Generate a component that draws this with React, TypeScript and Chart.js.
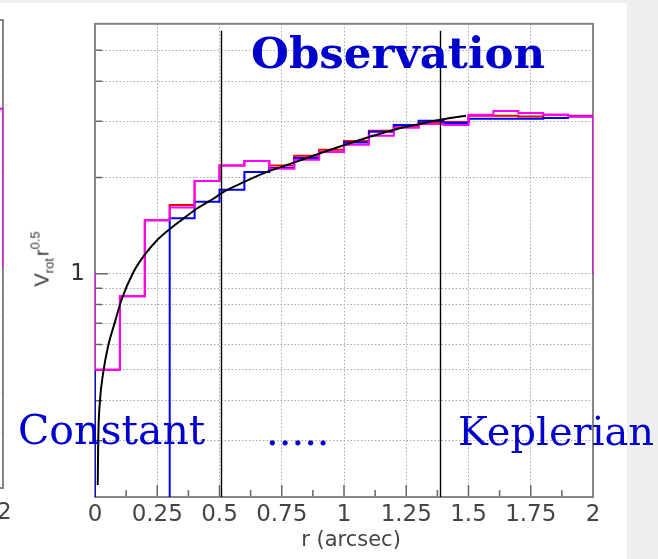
import React, { useEffect, useRef } from "react";
import { Chart, registerables } from "chart.js";

Chart.register(...registerables);

// ---------- data ----------
const BIN_LOW = [0, 0.1, 0.2, 0.3, 0.4, 0.5, 0.6, 0.7, 0.8, 0.9, 1.0, 1.1, 1.2, 1.3, 1.4, 1.5, 1.6, 1.7, 1.8, 1.9];
const BIN_WIDTH = 0.1;
const RED = [0.5, 0.85, 1.47, 1.64, 1.95, 2.18, 2.25, 2.18, 2.34, 2.44, 2.6, 2.8, 2.9, 2.98, 2.98, 3.12, 3.12, 3.1, 3.14, 3.12];
const BLUE = [0, 0, 0, 1.49, 1.68, 1.83, 2.08, 2.14, 2.3, 2.4, 2.57, 2.78, 2.92, 3.01, 2.96, 3.05, 3.05, 3.05, 3.07, 3.1];
const MAGENTA = [0.5, 0.85, 1.47, 1.61, 1.95, 2.18, 2.25, 2.13, 2.27, 2.4, 2.53, 2.7, 2.86, 2.94, 2.92, 3.14, 3.23, 3.18, 3.14, 3.1];

const CURVE_R = [0.011, 0.013, 0.02, 0.033, 0.052, 0.08, 0.107, 0.154, 0.194, 0.248, 0.301, 0.355, 0.408, 0.475, 0.515, 0.595, 0.703, 0.743, 0.823, 0.904, 0.984, 1.064, 1.145, 1.225, 1.305, 1.386, 1.49];
const CURVE_V = [0.218, 0.3, 0.4, 0.49, 0.59, 0.705, 0.83, 1.01, 1.13, 1.27, 1.38, 1.486, 1.596, 1.715, 1.8, 1.93, 2.1, 2.15, 2.26, 2.38, 2.5, 2.62, 2.74, 2.85, 2.94, 3.03, 3.12];

const X_TICKS = [0, 0.25, 0.5, 0.75, 1, 1.25, 1.5, 1.75, 2];
const X_MINOR_TICKS = [0.125, 0.375, 0.625, 0.875, 1.125, 1.375, 1.625, 1.875];
const Y_TICKS = [0.2, 0.3, 0.4, 0.5, 0.6, 0.7, 0.8, 0.9, 1, 2, 3, 4, 5];
const Y_LABELED = [1];
const X_MIN = 0;
const X_MAX = 2;
const Y_MIN = 0.2;
const Y_MAX = 6.05;
const HIST_BASE = 1;
const EMPTY_FLOOR = 0.1;
const MARKER_LINES = [0.505, 1.384];
const MARKER_TOP = 5.75;

// neighbouring (cut-off) panel on the left
const LEFT_BIN_LOW = [1.9];
const LEFT_MAGENTA = [3.17];
const LEFT_X_LABEL = "2";

// ---------- helpers ----------
function histPoints(lows: number[], vals: number[]) {
  const pts: { x: number; y: number }[] = [{ x: lows[0], y: HIST_BASE }];
  lows.forEach((lo, i) => {
    const v = vals[i] > 0 ? vals[i] : EMPTY_FLOOR;
    pts.push({ x: lo, y: v });
    pts.push({ x: lo + BIN_WIDTH, y: v });
  });
  pts.push({ x: lows[lows.length - 1] + BIN_WIDTH, y: HIST_BASE });
  return pts;
}

const TICK_FONT = { family: "DejaVu Sans", size: 23 };
const LABEL_COLOR = "#454545";

const framePlugin = {
  id: "frame",
  beforeDatasetsDraw(chart: any, _args: any, opts: any) {
    const { ctx, chartArea: a, scales } = chart;
    ctx.save();
    if (opts.innerTicks) {
      ctx.strokeStyle = "#666";
      ctx.lineWidth = 1.5;
      ctx.beginPath();
      X_TICKS.forEach((v) => {
        const px = scales.x.getPixelForValue(v);
        ctx.moveTo(px, a.bottom);
        ctx.lineTo(px, a.bottom - 12);
      });
      X_MINOR_TICKS.forEach((v) => {
        const px = scales.x.getPixelForValue(v);
        ctx.moveTo(px, a.bottom);
        ctx.lineTo(px, a.bottom - 7);
      });
      Y_TICKS.forEach((v) => {
        const py = scales.y.getPixelForValue(v);
        ctx.moveTo(a.left, py);
        ctx.lineTo(a.left + (Y_LABELED.includes(v) ? 13 : 7), py);
      });
      ctx.stroke();
    }
    ctx.strokeStyle = "#858585";
    ctx.lineWidth = 2;
    ctx.strokeRect(a.left, a.top, a.right - a.left, a.bottom - a.top);
    ctx.restore();
  },
  afterDatasetsDraw(chart: any, _args: any, opts: any) {
    if (!opts.markers) return;
    const { ctx, chartArea: a, scales } = chart;
    ctx.save();
    ctx.strokeStyle = "#000";
    ctx.lineWidth = 1.4;
    ctx.beginPath();
    MARKER_LINES.forEach((v) => {
      const px = Math.round(scales.x.getPixelForValue(v)) + 0.5;
      ctx.moveTo(px, scales.y.getPixelForValue(MARKER_TOP));
      ctx.lineTo(px, a.bottom);
    });
    ctx.stroke();
    ctx.restore();
  },
};

function gridOpts() {
  return {
    grid: { color: "#a8a8a8", lineWidth: 1, drawTicks: false },
    border: { display: false, dash: [1.5, 2] },
  };
}

export default function App() {
  const mainRef = useRef<HTMLCanvasElement>(null);
  const leftRef = useRef<HTMLCanvasElement>(null);

  useEffect(() => {
    const main = new Chart(mainRef.current!, {
      type: "line",
      data: {
        datasets: [
          {
            label: "fit",
            data: CURVE_R.map((r, i) => ({ x: r, y: CURVE_V[i] })),
            borderColor: "#000",
            borderWidth: 2,
            pointRadius: 0,
            cubicInterpolationMode: "monotone",
          },
          {
            label: "magenta",
            data: histPoints(BIN_LOW, MAGENTA),
            borderColor: "#ff00ff",
            borderWidth: 2,
            pointRadius: 0,
            tension: 0,
          },
          {
            label: "blue",
            data: histPoints(BIN_LOW, BLUE),
            borderColor: "#0000ff",
            borderWidth: 2,
            pointRadius: 0,
            tension: 0,
          },
          {
            label: "red",
            data: histPoints(BIN_LOW, RED),
            borderColor: "#ff0000",
            borderWidth: 2,
            pointRadius: 0,
            tension: 0,
          },
        ],
      },
      options: {
        animation: false,
        responsive: false,
        events: [],
        layout: { padding: { left: 0, top: 20, right: 65, bottom: 0 } },
        plugins: {
          legend: { display: false },
          tooltip: { enabled: false },
          frame: { innerTicks: true, markers: true },
        } as any,
        scales: {
          x: {
            type: "linear",
            min: X_MIN,
            max: X_MAX,
            ...gridOpts(),
            afterBuildTicks: (axis: any) => {
              axis.ticks = X_TICKS.map((v) => ({ value: v }));
            },
            afterFit: (scale: any) => {
              scale.height = 62;
            },
            ticks: {
              autoSkip: false,
              maxRotation: 0,
              padding: 4,
              color: LABEL_COLOR,
              font: TICK_FONT,
              callback: (v: any) => String(v),
            },
          },
          y: {
            type: "logarithmic",
            min: Y_MIN,
            max: Y_MAX,
            ...gridOpts(),
            afterBuildTicks: (axis: any) => {
              axis.ticks = Y_TICKS.map((v) => ({ value: v }));
            },
            afterFit: (scale: any) => {
              scale.width = 95;
            },
            ticks: {
              autoSkip: false,
              padding: 10,
              color: "#333",
              font: TICK_FONT,
              callback: (v: any) => (Y_LABELED.includes(Number(v)) ? String(v) : ""),
            },
          },
        },
      },
      plugins: [framePlugin],
    } as any);

    const left = new Chart(leftRef.current!, {
      type: "line",
      data: {
        datasets: [
          {
            label: "magenta",
            data: histPoints(LEFT_BIN_LOW, LEFT_MAGENTA),
            borderColor: "#ff00ff",
            borderWidth: 2,
            pointRadius: 0,
            tension: 0,
          },
        ],
      },
      options: {
        animation: false,
        responsive: false,
        events: [],
        layout: { padding: { left: 0, top: 20, right: 1, bottom: 0 } },
        plugins: {
          legend: { display: false },
          tooltip: { enabled: false },
          frame: { innerTicks: false, markers: false },
        } as any,
        scales: {
          x: {
            type: "linear",
            min: X_MIN,
            max: X_MAX,
            ...gridOpts(),
            afterBuildTicks: (axis: any) => {
              axis.ticks = X_TICKS.map((v) => ({ value: v }));
            },
            afterFit: (scale: any) => {
              scale.height = 71;
            },
            ticks: { display: false },
          },
          y: {
            type: "logarithmic",
            min: Y_MIN,
            max: Y_MAX,
            ...gridOpts(),
            afterBuildTicks: (axis: any) => {
              axis.ticks = Y_TICKS.map((v) => ({ value: v }));
            },
            afterFit: (scale: any) => {
              scale.width = 0;
            },
            ticks: { display: false },
          },
        },
      },
      plugins: [framePlugin],
    } as any);

    return () => {
      main.destroy();
      left.destroy();
    };
  }, []);

  const serif = "'DejaVu Serif', serif";
  const blue = "#0000cc";

  return (
    <div
      style={{
        position: "fixed",
        left: 0,
        top: 0,
        width: 658,
        height: 559,
        background: "#efefef",
        overflow: "hidden",
      }}
    >
      <div style={{ position: "absolute", left: 0, top: 3, width: 627, height: 556, background: "#fff" }} />
      <canvas
        ref={leftRef}
        width={300}
        height={559}
        style={{ position: "absolute", left: -296, top: 0, width: 300, height: 559 }}
      />
      <div
        style={{
          position: "absolute",
          left: -3,
          top: 500,
          fontFamily: "'DejaVu Sans', sans-serif",
          fontSize: 23,
          lineHeight: "23px",
          color: LABEL_COLOR,
        }}
      >
        {LEFT_X_LABEL}
      </div>
      <canvas
        ref={mainRef}
        width={658}
        height={559}
        style={{ position: "absolute", left: 0, top: 0, width: 658, height: 559 }}
      />
      {/* y axis title */}
      <div
        style={{
          position: "absolute",
          left: 43,
          top: 259,
          transform: "translate(-50%, -50%) rotate(-90deg)",
          fontFamily: "'Liberation Sans', Arial, sans-serif",
          fontSize: 20,
          lineHeight: "20px",
          color: "#333",
          whiteSpace: "nowrap",
        }}
      >
        V<span style={{ fontSize: 13, position: "relative", top: 5 }}>rot</span>
        <span style={{ marginLeft: 2 }}>r</span>
        <span style={{ fontSize: 13, position: "relative", top: -9 }}>0.5</span>
      </div>
      {/* x axis title */}
      <div
        style={{
          position: "absolute",
          left: 351,
          top: 529,
          transform: "translateX(-50%)",
          fontFamily: "'DejaVu Sans', sans-serif",
          fontSize: 21,
          lineHeight: "21px",
          color: LABEL_COLOR,
          whiteSpace: "nowrap",
        }}
      >
        r (arcsec)
      </div>
      {/* annotations */}
      <div
        style={{
          position: "absolute",
          left: 251,
          top: 31,
          fontFamily: serif,
          fontWeight: "bold",
          fontSize: 43.5,
          lineHeight: "43.5px",
          color: blue,
          whiteSpace: "nowrap",
        }}
      >
        Observation
      </div>
      <div
        style={{
          position: "absolute",
          left: 18,
          top: 410,
          fontFamily: serif,
          fontSize: 41,
          lineHeight: "41px",
          color: blue,
          whiteSpace: "nowrap",
        }}
      >
        Constant
      </div>
      <div
        style={{
          position: "absolute",
          left: 266,
          top: 411,
          fontFamily: serif,
          fontSize: 40,
          lineHeight: "40px",
          color: blue,
          whiteSpace: "nowrap",
        }}
      >
        .....
      </div>
      <div
        style={{
          position: "absolute",
          left: 458,
          top: 411,
          fontFamily: serif,
          fontSize: 40,
          lineHeight: "40px",
          color: blue,
          whiteSpace: "nowrap",
        }}
      >
        Keplerian
      </div>
    </div>
  );
}
